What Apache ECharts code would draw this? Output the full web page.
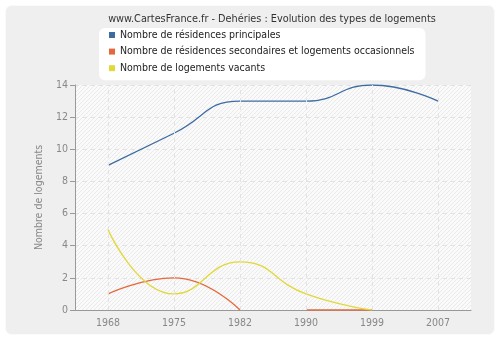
<!DOCTYPE html>
<html><head><meta charset="utf-8">
<script src="https://cdn.jsdelivr.net/npm/echarts@6/dist/echarts.min.js"></script>
<style>html,body{margin:0;padding:0;background:#fff}#c{width:500px;height:340px}</style>
</head><body><div id="c"></div>
<script>
const categories = ['1968','1975','1982','1990','1999','2007'];
const principales = [9, 11, 13, 13, 14, 13];
const secondaires = [1, 2, 0, null, null, null];
const secondairesTail = [null, null, null, 0, 0, null];
const vacants = [5, 1, 3, 1, 0, null];
const yTicks = {min: 0, max: 14, interval: 2};
const names = ['Nombre de résidences principales','Nombre de résidences secondaires et logements occasionnels','Nombre de logements vacants'];
const colors = ['#3d6ca3','#e5683a','#e2d83a'];

const pc = document.createElement('canvas');
pc.width = 4; pc.height = 4;
const g = pc.getContext('2d');
g.fillStyle = '#fafafa'; g.fillRect(0,0,4,4);
g.fillStyle = '#eaeaea';
for (let i = 0; i < 4; i++) g.fillRect(i, 3 - i, 1, 1);

const font = 'DejaVu Sans Condensed, DejaVu Sans';
const chart = echarts.init(document.getElementById('c'));
chart.setOption({
  animation: false,
  textStyle: {fontFamily: font},
  graphic: [{type:'rect', z:-10, shape:{x:5.5,y:5.5,width:489,height:329,r:6}, style:{fill:'#efefef', stroke:'#fafafa', lineWidth:1}}],
  title: {text: 'www.CartesFrance.fr - Dehéries : Evolution des types de logements', left: 267, textAlign: 'center', top: 9,
    textStyle: {fontSize: 10.8, fontWeight: 'normal', color: '#333', fontFamily: font}},
  legend: {data: names, orient: 'vertical', left: 99, top: 28, backgroundColor: '#fff', borderRadius: 6,
    padding: [1, 11, 6, 10], itemGap: 4.6, itemWidth: 6, itemHeight: 6, icon: 'rect',
    textStyle: {fontSize: 10.5, lineHeight: 12, color: '#222', fontFamily: font}},
  grid: {left: 75, right: 29, top: 85, bottom: 30, show: true, borderWidth: 0,
    backgroundColor: {image: pc, repeat: 'repeat'}},
  xAxis: {type: 'category', data: categories, boundaryGap: true,
    axisLine: {lineStyle: {color: '#999'}}, axisTick: {alignWithLabel: true, length: 5, lineStyle: {color: '#999'}},
    axisLabel: {color: '#888', fontSize: 10.5, margin: 8}, splitLine: {show: false}},
  yAxis: {type: 'value', min: yTicks.min, max: yTicks.max, interval: yTicks.interval,
    name: 'Nombre de logements', nameLocation: 'middle', nameGap: 21, nameTextStyle: {color: '#888', fontSize: 10.5},
    axisLine: {show: true, lineStyle: {color: '#999'}}, axisTick: {show: true, length: 5, lineStyle: {color: '#999'}},
    axisLabel: {color: '#888', fontSize: 10.5, margin: 7},
    splitLine: {lineStyle: {color: '#e2e2e2', type: [4, 4]}}},
  series: [
    {name: '_grid', type: 'line', data: categories.map(() => null), z: 1, silent: true,
      markLine: {silent: true, symbol: 'none', label: {show: false}, lineStyle: {color: '#e2e2e2', type: [4,4], width: 1},
        data: categories.map(c => ({xAxis: c}))}},
    {name: names[0], type: 'line', data: principales, smooth: 0.5, showSymbol: false, color: colors[0], lineStyle: {width: 1.3}},
    {name: names[1], type: 'line', data: secondaires, smooth: 0.5, showSymbol: false, color: colors[1], lineStyle: {width: 1.3}},
    {name: '_sec2', type: 'line', data: secondairesTail, smooth: 0.5, showSymbol: false, color: colors[1], lineStyle: {width: 1.3}},
    {name: names[2], type: 'line', data: vacants, smooth: 0.5, showSymbol: false, color: colors[2], lineStyle: {width: 1.3}}
  ]
});
</script></body></html>
